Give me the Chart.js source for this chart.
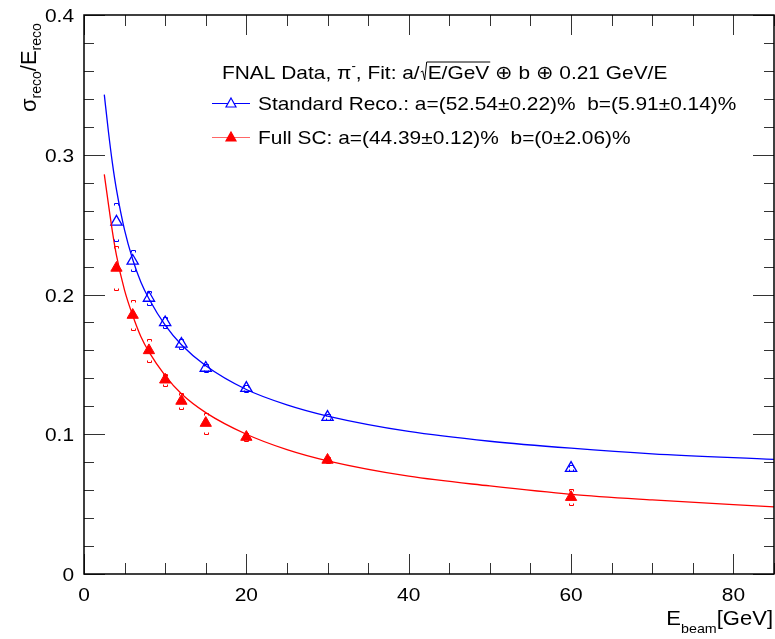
<!DOCTYPE html>
<html>
<head>
<meta charset="utf-8">
<script src="https://cdn.jsdelivr.net/npm/chart.js@4.4.0/dist/chart.umd.min.js"></script>
<style>
  html, body { margin: 0; padding: 0; background: #fff; }
  canvas { display: block; }
</style>
</head>
<body>
<canvas id="chart" width="775" height="639"></canvas>
<script>
// measured points (GeV, sigma/E) and their error half-widths
const beamEnergies = [4, 6, 8, 10, 12, 15, 20, 30, 60];
const standardReco = [0.252, 0.224, 0.1975, 0.180, 0.1646, 0.1474, 0.133, 0.1123, 0.0758];
const standardRecoErr = [0.0135, 0.0075, 0.005, 0.004, 0.0035, 0.003, 0.0025, 0.002, 0.002];
const fullSC = [0.219, 0.1853, 0.160, 0.139, 0.1238, 0.108, 0.098, 0.0816, 0.055];
const fullSCErr = [0.016, 0.011, 0.008, 0.0043, 0.0057, 0.0075, 0.003, 0.002, 0.0055];

// fit curves
const fitEnergies = [2.5, 3, 3.5, 4, 5, 6, 7, 8, 10, 12, 15, 20, 25, 30, 40, 50, 60, 70, 85];
const standardFit = [0.343, 0.317, 0.294, 0.275, 0.246, 0.225, 0.209, 0.197, 0.178, 0.164, 0.149, 0.132, 0.121, 0.113, 0.102, 0.095, 0.090, 0.086, 0.082];
const fullSCFit = [0.286, 0.265, 0.245, 0.228, 0.203, 0.185, 0.170, 0.159, 0.142, 0.129, 0.1155, 0.100, 0.089, 0.081, 0.070, 0.063, 0.057, 0.053, 0.048];

const xTicks = [0, 20, 40, 60, 80];
const yTicks = [0, 0.1, 0.2, 0.3, 0.4];
const yTickLabels = ['0', '0.1', '0.2', '0.3', '0.4'];

const BLUE = '#0000ff';
const RED = '#ff0000';
const FONT = '"Liberation Sans", Arial, Helvetica, sans-serif';
const STRETCH = 1.1; // the reference text is a little wide

const toPoints = (xs, ys) => xs.map((x, i) => ({ x, y: ys[i] }));

// draw text stretched horizontally, returns advance width
function wideText(ctx, txt, x, y, size, align = 'left') {
  ctx.font = `${size}px ${FONT}`;
  const w = ctx.measureText(txt).width * STRETCH;
  let left = x;
  if (align === 'center') left = x - w / 2;
  if (align === 'right') left = x - w;
  ctx.save();
  ctx.translate(left, y);
  ctx.scale(STRETCH, 1);
  ctx.textAlign = 'left';
  ctx.fillText(txt, 0, 0);
  ctx.restore();
  return w;
}

function textWidth(ctx, txt, size) {
  ctx.font = `${size}px ${FONT}`;
  return ctx.measureText(txt).width * STRETCH;
}

const errorCaps = {
  id: 'errorCaps',
  afterDatasetsDraw(chart) {
    const { ctx, scales: { x, y } } = chart;
    const sets = [
      { vals: standardReco, errs: standardRecoErr, color: BLUE },
      { vals: fullSC, errs: fullSCErr, color: RED },
    ];
    ctx.save();
    ctx.lineWidth = 1;
    sets.forEach(({ vals, errs, color }) => {
      ctx.strokeStyle = color;
      beamEnergies.forEach((e, i) => {
        const px = Math.round(x.getPixelForValue(e)) + 0.5;
        const top = Math.round(y.getPixelForValue(vals[i] + errs[i])) + 0.5;
        const bot = Math.round(y.getPixelForValue(vals[i] - errs[i])) + 0.5;
        ctx.beginPath();
        ctx.moveTo(px - 2, top + 2); ctx.lineTo(px - 2, top); ctx.lineTo(px + 2, top); ctx.lineTo(px + 2, top + 2);
        ctx.moveTo(px - 2, bot - 2); ctx.lineTo(px - 2, bot); ctx.lineTo(px + 2, bot); ctx.lineTo(px + 2, bot - 2);
        ctx.stroke();
      });
    });
    ctx.restore();
  },
};

const frameAndText = {
  id: 'frameAndText',
  afterDraw(chart) {
    const { ctx, chartArea: a, scales: { x, y } } = chart;
    ctx.save();

    // inward ticks on all four sides
    ctx.strokeStyle = '#333';
    ctx.lineWidth = 1;
    ctx.beginPath();
    for (let i = 0; i <= 17; i++) {
      const v = i * 5;
      const px = Math.round(x.getPixelForValue(v)) + 0.5;
      const len = v % 20 === 0 ? 20 : 11;
      ctx.moveTo(px, a.bottom); ctx.lineTo(px, a.bottom - len);
      ctx.moveTo(px, a.top); ctx.lineTo(px, a.top + len);
    }
    for (let i = 0; i <= 20; i++) {
      const py = Math.round(y.getPixelForValue(i * 0.02)) + 0.5;
      const len = i % 5 === 0 ? 21 : 10;
      ctx.moveTo(a.left, py); ctx.lineTo(a.left + len, py);
      ctx.moveTo(a.right, py); ctx.lineTo(a.right - len, py);
    }
    ctx.stroke();

    ctx.strokeStyle = '#000';
    ctx.lineWidth = 1.5;
    ctx.strokeRect(a.left, a.top, a.right - a.left, a.bottom - a.top);

    ctx.fillStyle = '#000';
    ctx.textBaseline = 'alphabetic';

    // tick labels
    xTicks.forEach((v) => {
      wideText(ctx, String(v), x.getPixelForValue(v), 601, 19, 'center');
    });
    yTicks.forEach((v, i) => {
      wideText(ctx, yTickLabels[i], 74, y.getPixelForValue(v) + 7, 19, 'right');
    });

    // header line of the legend
    let cx = 222;
    const base = 79;
    const put = (txt, size, dy = 0) => {
      cx += wideText(ctx, txt, cx, base + dy, size);
    };
    put('FNAL Data, \u03c0', 19);
    put('-', 12, -9);
    put(', Fit: a/', 19);
    const rootStart = cx;
    cx += 8;
    const under = 'E/GeV';
    const underW = textWidth(ctx, under, 19);
    put(under, 19);
    ctx.strokeStyle = '#000';
    ctx.lineWidth = 1;
    ctx.beginPath();
    ctx.moveTo(rootStart + 1, base - 7);
    ctx.lineTo(rootStart + 3, base - 8);
    ctx.lineTo(rootStart + 5, base + 1);
    ctx.lineTo(rootStart + 7, base - 17);
    ctx.lineTo(rootStart + 8 + underW + 1, base - 17);
    ctx.stroke();
    put(' \u2295 b \u2295 0.21 GeV/E', 19);

    // legend rows
    const rows = [
      { y: 103, line: BLUE, color: BLUE, fill: '#fff', text: 'Standard Reco.: a=(52.54\u00b10.22)%  b=(5.91\u00b10.14)%' },
      { y: 137, line: 'rgba(255,0,0,0.6)', color: RED, fill: RED, text: 'Full SC: a=(44.39\u00b10.12)%  b=(0\u00b12.06)%' },
    ];
    rows.forEach((r) => {
      ctx.strokeStyle = r.line;
      ctx.lineWidth = 1.2;
      ctx.beginPath();
      ctx.moveTo(212, r.y + 0.5); ctx.lineTo(250, r.y + 0.5);
      ctx.stroke();
      ctx.beginPath();
      ctx.moveTo(231, r.y - 5); ctx.lineTo(236, r.y + 4); ctx.lineTo(226, r.y + 4); ctx.closePath();
      ctx.fillStyle = r.fill;
      ctx.fill();
      ctx.strokeStyle = r.color;
      ctx.stroke();
      ctx.fillStyle = '#000';
      wideText(ctx, r.text, 258, r.y + 7, 19);
    });

    // x axis title, right aligned
    const wE = textWidth(ctx, 'E', 20);
    const wB = textWidth(ctx, 'beam', 13);
    const wG = textWidth(ctx, '[GeV]', 20);
    let tx = 773 - wE - wB - wG;
    tx += wideText(ctx, 'E', tx, 625, 20);
    tx += wideText(ctx, 'beam', tx, 633, 13);
    wideText(ctx, '[GeV]', tx, 625, 20);

    // y axis title, rotated
    ctx.translate(36, 112);
    ctx.rotate(-Math.PI / 2);
    let ty = 0;
    const seg = (txt, size, dy) => {
      ctx.font = `${size}px ${FONT}`;
      ctx.fillText(txt, ty, dy);
      ty += ctx.measureText(txt).width;
    };
    seg('\u03c3', 22, 0);
    seg('reco', 14, 5);
    seg('/E', 22, 0);
    seg('reco', 14, 5);

    ctx.restore();
  },
};

new Chart(document.getElementById('chart'), {
  type: 'scatter',
  data: {
    datasets: [
      {
        label: 'Standard Reco. fit',
        type: 'line',
        data: toPoints(fitEnergies, standardFit),
        borderColor: BLUE,
        borderWidth: 1.3,
        pointRadius: 0,
        cubicInterpolationMode: 'monotone',
        fill: false,
      },
      {
        label: 'Full SC fit',
        type: 'line',
        data: toPoints(fitEnergies, fullSCFit),
        borderColor: RED,
        borderWidth: 1.3,
        pointRadius: 0,
        cubicInterpolationMode: 'monotone',
        fill: false,
      },
      {
        label: 'Standard Reco.',
        data: toPoints(beamEnergies, standardReco),
        pointStyle: 'triangle',
        pointRadius: 6.5,
        borderWidth: 1.3,
        borderColor: BLUE,
        backgroundColor: 'rgba(255,255,255,0)',
      },
      {
        label: 'Full SC',
        data: toPoints(beamEnergies, fullSC),
        pointStyle: 'triangle',
        pointRadius: 6.5,
        borderWidth: 1,
        borderColor: RED,
        backgroundColor: RED,
      },
    ],
  },
  options: {
    responsive: false,
    animation: false,
    layout: { autoPadding: false, padding: { top: 15, right: 1, left: 0, bottom: 0 } },
    plugins: {
      legend: { display: false },
      tooltip: { enabled: false },
    },
    scales: {
      x: {
        type: 'linear',
        min: 0,
        max: 85,
        afterFit: (scale) => { scale.height = 65; },
        grid: { display: false, drawTicks: false },
        border: { display: false },
        ticks: { display: false },
      },
      y: {
        type: 'linear',
        min: 0,
        max: 0.4,
        afterFit: (scale) => { scale.width = 84; },
        grid: { display: false, drawTicks: false },
        border: { display: false },
        ticks: { display: false },
      },
    },
  },
  plugins: [errorCaps, frameAndText],
});
</script>
</body>
</html>
